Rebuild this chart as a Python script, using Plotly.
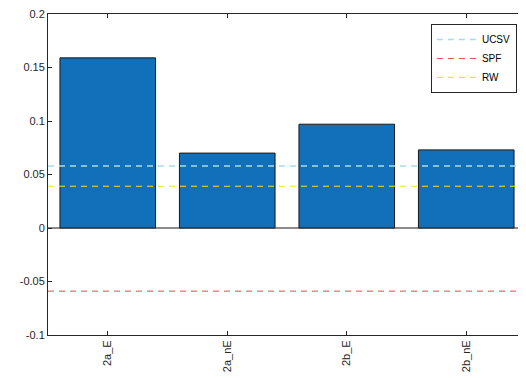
import plotly.graph_objects as go

categories = ["2a_E", "2a_nE", "2b_E", "2b_nE"]
bar_values = [0.159, 0.070, 0.097, 0.073]
ucsv_value = 0.058
spf_value = -0.059
rw_value = 0.039
y_ticks = [-0.1, -0.05, 0, 0.05, 0.1, 0.15, 0.2]
y_tick_labels = ["-0.1", "-0.05", "0", "0.05", "0.1", "0.15", "0.2"]

xpos = list(range(len(categories)))
x_lo, x_hi = -0.5, len(categories) - 0.5

fig = go.Figure()
fig.add_trace(go.Bar(
    x=xpos, y=bar_values, width=0.8,
    marker=dict(color="#1170B9", line=dict(color="#1a1a1a", width=1)),
    showlegend=False,
))
ref_lines = [
    ("UCSV", ucsv_value, "#a8dce6", 1.6),
    ("SPF", spf_value, "#e44a4a", 1.0),
    ("RW", rw_value, "#ecec10", 1.2),
]
for name, val, color, w in ref_lines:
    fig.add_trace(go.Scatter(
        x=[x_lo, x_hi], y=[val, val], mode="lines", name=name,
        line=dict(color=color, width=w, dash="6px,5px"),
    ))

axis_common = dict(
    showline=True, linecolor="#262626", linewidth=1, mirror="ticks",
    ticks="inside", ticklen=4, tickcolor="#262626", showgrid=False,
    ticklabeloverflow="allow",
    tickfont=dict(family="Liberation Sans, Arial, sans-serif", size=11, color="#262626"),
)
fig.update_xaxes(
    range=[x_lo, x_hi], tickvals=xpos, ticktext=categories, tickangle=-90,
    zeroline=False, automargin=False, **axis_common,
)
fig.update_yaxes(
    range=[-0.1, 0.2], tickvals=y_ticks, ticktext=y_tick_labels,
    zeroline=True, zerolinecolor="#8c8c8c", zerolinewidth=1.5,
    automargin=False, **axis_common,
)
fig.update_layout(
    width=518, height=370,
    margin=dict(l=40, r=0, t=6, b=43),
    paper_bgcolor="white", plot_bgcolor="white",
    legend=dict(
        x=0.981, y=0.969, xanchor="right", yanchor="top",
        bgcolor="white", bordercolor="#262626", borderwidth=1,
        font=dict(family="Liberation Sans, Arial, sans-serif", size=10, color="#000"),
        itemwidth=40, tracegroupgap=0,
    ),
    font=dict(family="Liberation Sans, Arial, sans-serif"),
)
fig.write_html("out.html")
